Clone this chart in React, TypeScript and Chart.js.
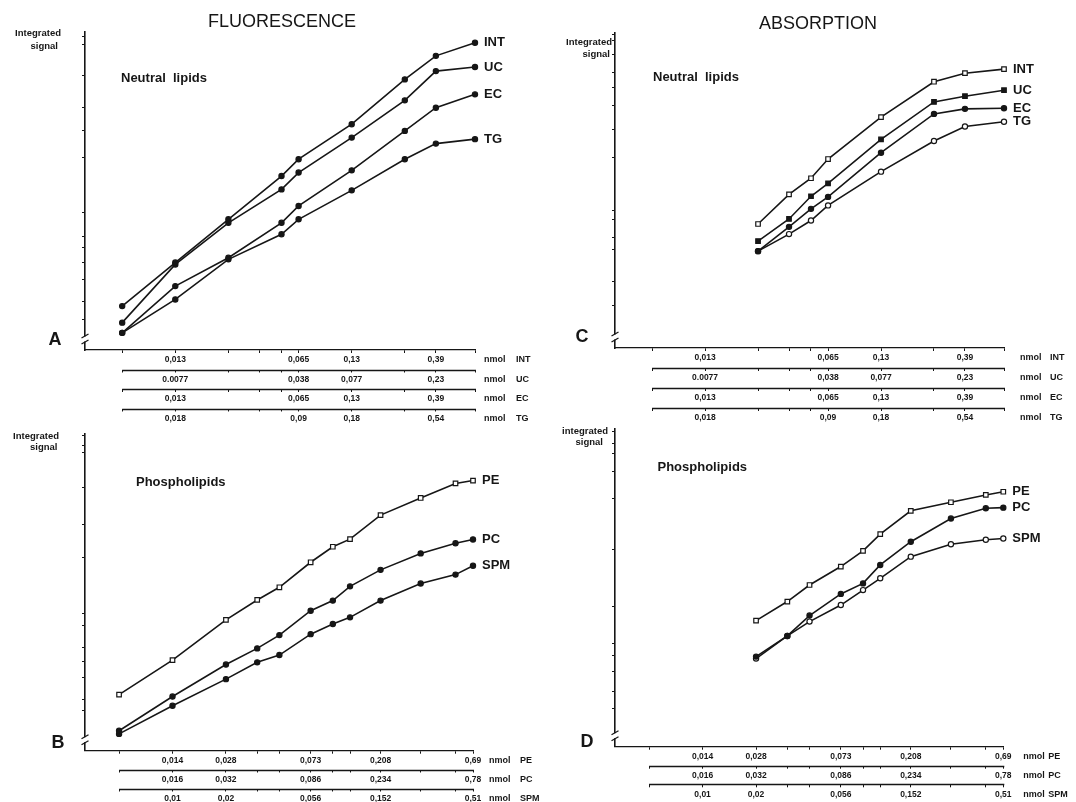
import React, { useEffect, useRef } from 'react';
import { Chart, registerables } from 'chart.js';

Chart.register(...registerables);

const FONT = '"Liberation Sans", Arial, Helvetica, sans-serif';
const INK = '#161616';

// ================= DATA =================
// Neutral lipids (panels A, C): x = nmol INT, shared tick positions of the 4 stacked axes
const neutralTickPositions = [0.0065, 0.013, 0.026, 0.039, 0.052, 0.065, 0.13, 0.26, 0.39, 0.65];
const rowLabelsINT = ['', '0,013', '', '', '', '0,065', '0,13', '', '0,39', ''];
const rowLabelsUC = ['', '0.0077', '', '', '', '0,038', '0,077', '', '0,23', ''];
const rowLabelsEC = ['', '0,013', '', '', '', '0,065', '0,13', '', '0,39', ''];
const rowLabelsTG = ['', '0,018', '', '', '', '0,09', '0,18', '', '0,54', ''];

// Phospholipids (panels B, D): x = nmol PE
const phosTickPositions = [0.007, 0.014, 0.028, 0.042, 0.056, 0.084, 0.112, 0.14, 0.208, 0.35, 0.55, 0.69];
const rowLabelsPE = ['', '0,014', '0,028', '', '', '0,073', '', '', '0,208', '', '', '0,69'];
const rowLabelsPC = ['', '0,016', '0,032', '', '', '0,086', '', '', '0,234', '', '', '0,78'];
const rowLabelsSPM = ['', '0,01', '0,02', '', '', '0,056', '', '', '0,152', '', '', '0,51'];

// Panel A – fluorescence, neutral lipids (integrated signal, arbitrary units 0–100)
const fluoNeutralX = [0.0065, 0.013, 0.026, 0.052, 0.065, 0.13, 0.26, 0.39, 0.65];
const fluoINT = [13.8, 27.5, 41.1, 54.7, 60.0, 71.0, 85.1, 92.5, 96.6];
const fluoUC = [8.6, 26.9, 40.0, 50.5, 55.8, 66.8, 78.5, 87.7, 89.0];
const fluoEC = [5.4, 20.1, 29.0, 40.0, 45.3, 56.5, 68.9, 76.2, 80.4];
const fluoTG = [5.4, 15.9, 28.5, 36.4, 41.1, 50.2, 60.0, 64.9, 66.3];
const fluoNeutralYTicks = [9.7, 15.4, 22.2, 27.5, 32.2, 35.8, 43.2, 60.5, 68.9, 76.2, 86.2, 96.1, 98.7];

// Panel C – absorption, neutral lipids
const absNeutralX = [0.026, 0.039, 0.052, 0.065, 0.13, 0.26, 0.39, 0.65];
const absINT = [39.3, 48.7, 53.8, 59.9, 73.2, 84.4, 87.1, 88.4];
const absUC = [33.9, 40.9, 48.1, 52.2, 66.1, 78.0, 79.8, 81.7];
const absEC = [30.7, 38.4, 44.1, 47.9, 61.9, 74.2, 75.8, 76.0];
const absTG = [30.7, 36.1, 40.4, 45.2, 55.9, 65.6, 70.2, 71.7];
const absNeutralYTicks = [13.5, 21, 31.2, 35, 40.6, 43.6, 60.3, 69.1, 76.9, 82.5, 87.4, 93, 97.5, 99.4];

// Panel B – fluorescence, phospholipids
const fluoPhosX = [0.007, 0.014, 0.028, 0.042, 0.056, 0.084, 0.112, 0.14, 0.208, 0.35, 0.55, 0.69];
const fluoPE = [17.7, 28.6, 41.3, 47.6, 51.6, 59.5, 64.4, 66.8, 74.4, 79.8, 84.4, 85.3];
const fluoPC = [6.3, 17.1, 27.2, 32.3, 36.5, 44.2, 47.4, 51.9, 57.1, 62.3, 65.5, 66.7];
const fluoSPM = [5.3, 14.2, 22.6, 27.9, 30.2, 36.8, 40.0, 42.1, 47.4, 52.8, 55.6, 58.4];
const fluoPhosYTicks = [12.6, 16.3, 23.1, 28.2, 32.6, 39.5, 43.2, 61, 71.5, 83.1, 94.2, 96.3, 99.5];

// Panel D – absorption, phospholipids
const absPhosX = [0.028, 0.042, 0.056, 0.084, 0.112, 0.14, 0.208, 0.35, 0.55, 0.69];
const absPE = [39.6, 45.6, 50.8, 56.6, 61.5, 66.8, 74.1, 76.8, 79.1, 80.1];
const absPC = [28.3, 34.8, 41.2, 48.0, 51.3, 57.1, 64.4, 71.7, 74.9, 75.1];
const absSPM = [27.7, 34.8, 39.3, 44.5, 49.2, 52.9, 59.7, 63.6, 65.0, 65.4];
const absPhosYTicks = [12, 17.3, 23.6, 28.8, 32.5, 44, 61.8, 78, 86.4, 92.1, 95.3, 99];

// ================= LAYOUT / STYLE =================
type Series = { name: string; values: number[]; marker: 'circle' | 'rect'; open: boolean };
type Row = { labels: string[]; name: string; height: number };
type TextItem = { text: string; x: number; y: number; font: string; align: CanvasTextAlign };
type PanelCfg = {
  id: string;
  box: { x: number; y: number; w: number; h: number };
  pad: { left: number; right: number; top: number; bottom: number };
  xMin: number;
  xMax: number;
  x: number[];
  series: Series[];
  ticks: number[];
  rows: Row[];
  yTicks: number[];
  unitDx: number;
  nameDx: number;
  texts: TextItem[];
};

const fTitle = `18px ${FONT}`;
const fSmall = `bold 9.5px ${FONT}`;
const fUnit = `bold 9px ${FONT}`;
const fSub = `bold 13px ${FONT}`;
const fLetter = `bold 18px ${FONT}`;

const panels: PanelCfg[] = [
  {
    id: 'A',
    box: { x: 0, y: 0, w: 540, h: 432 },
    pad: { left: 80, right: 65, top: 32, bottom: 4 },
    xMin: 0.004, xMax: 0.65,
    x: fluoNeutralX,
    series: [
      { name: 'INT', values: fluoINT, marker: 'circle', open: false },
      { name: 'UC', values: fluoUC, marker: 'circle', open: false },
      { name: 'EC', values: fluoEC, marker: 'circle', open: false },
      { name: 'TG', values: fluoTG, marker: 'circle', open: false },
    ],
    ticks: neutralTickPositions,
    rows: [
      { labels: rowLabelsINT, name: 'INT', height: 19.5 },
      { labels: rowLabelsUC, name: 'UC', height: 19.5 },
      { labels: rowLabelsEC, name: 'EC', height: 19.5 },
      { labels: rowLabelsTG, name: 'TG', height: 19.5 },
    ],
    yTicks: fluoNeutralYTicks,
    unitDx: 9, nameDx: 41,
    texts: [
      { text: 'FLUORESCENCE', x: 282, y: 22, font: fTitle, align: 'center' },
      { text: 'Integrated', x: 61, y: 33, font: fSmall, align: 'right' },
      { text: 'signal', x: 58, y: 46, font: fSmall, align: 'right' },
      { text: 'Neutral  lipids', x: 121, y: 78, font: fSub, align: 'left' },
      { text: 'A', x: 55, y: 340, font: fLetter, align: 'center' },
    ],
  },
  {
    id: 'C',
    box: { x: 540, y: 0, w: 536, h: 432 },
    pad: { left: 70, right: 72, top: 32.5, bottom: 4 },
    xMin: 0.004, xMax: 0.65,
    x: absNeutralX,
    series: [
      { name: 'INT', values: absINT, marker: 'rect', open: true },
      { name: 'UC', values: absUC, marker: 'rect', open: false },
      { name: 'EC', values: absEC, marker: 'circle', open: false },
      { name: 'TG', values: absTG, marker: 'circle', open: true },
    ],
    ticks: neutralTickPositions,
    rows: [
      { labels: rowLabelsINT, name: 'INT', height: 20 },
      { labels: rowLabelsUC, name: 'UC', height: 20 },
      { labels: rowLabelsEC, name: 'EC', height: 20 },
      { labels: rowLabelsTG, name: 'TG', height: 20 },
    ],
    yTicks: absNeutralYTicks,
    unitDx: 16, nameDx: 46,
    texts: [
      { text: 'ABSORPTION', x: 818, y: 24, font: fTitle, align: 'center' },
      { text: 'Integrated', x: 612, y: 42.7, font: fSmall, align: 'right' },
      { text: 'signal', x: 610, y: 54, font: fSmall, align: 'right' },
      { text: 'Neutral  lipids', x: 653, y: 77.6, font: fSub, align: 'left' },
      { text: 'C', x: 582, y: 337, font: fLetter, align: 'center' },
    ],
  },
  {
    id: 'B',
    box: { x: 0, y: 420, w: 540, h: 382 },
    pad: { left: 80, right: 67, top: 14, bottom: 0 },
    xMin: 0.0045, xMax: 0.69,
    x: fluoPhosX,
    series: [
      { name: 'PE', values: fluoPE, marker: 'rect', open: true },
      { name: 'PC', values: fluoPC, marker: 'circle', open: false },
      { name: 'SPM', values: fluoSPM, marker: 'circle', open: false },
    ],
    ticks: phosTickPositions,
    rows: [
      { labels: rowLabelsPE, name: 'PE', height: 18.8 },
      { labels: rowLabelsPC, name: 'PC', height: 19 },
      { labels: rowLabelsSPM, name: 'SPM', height: 13.5 },
    ],
    yTicks: fluoPhosYTicks,
    unitDx: 16, nameDx: 47,
    texts: [
      { text: 'Integrated', x: 59, y: 436, font: fSmall, align: 'right' },
      { text: 'signal', x: 57.5, y: 447.5, font: fSmall, align: 'right' },
      { text: 'Phospholipids', x: 136, y: 482.5, font: fSub, align: 'left' },
      { text: 'B', x: 58, y: 743, font: fLetter, align: 'center' },
    ],
  },
  {
    id: 'D',
    box: { x: 540, y: 420, w: 536, h: 382 },
    pad: { left: 70, right: 72.7, top: 8.4, bottom: 0 },
    xMin: 0.0045, xMax: 0.69,
    x: absPhosX,
    series: [
      { name: 'PE', values: absPE, marker: 'rect', open: true },
      { name: 'PC', values: absPC, marker: 'circle', open: false },
      { name: 'SPM', values: absSPM, marker: 'circle', open: true },
    ],
    ticks: phosTickPositions,
    rows: [
      { labels: rowLabelsPE, name: 'PE', height: 19 },
      { labels: rowLabelsPC, name: 'PC', height: 18.6 },
      { labels: rowLabelsSPM, name: 'SPM', height: 17.7 },
    ],
    yTicks: absPhosYTicks,
    unitDx: 20, nameDx: 45,
    texts: [
      { text: 'integrated', x: 608, y: 431, font: fSmall, align: 'right' },
      { text: 'signal', x: 603, y: 442, font: fSmall, align: 'right' },
      { text: 'Phospholipids', x: 657.5, y: 467, font: fSub, align: 'left' },
      { text: 'D', x: 587, y: 742, font: fLetter, align: 'center' },
    ],
  },
];

function makeDecor(p: PanelCfg) {
  return {
    id: 'decor' + p.id,
    afterDraw(chart: any) {
      const ctx: CanvasRenderingContext2D = chart.ctx;
      const area = chart.chartArea;
      ctx.save();
      ctx.strokeStyle = INK;
      ctx.fillStyle = INK;

      // partial lines of the secondary axis rows + unit labels
      p.rows.forEach((row, i) => {
        const s = chart.scales[i === 0 ? 'x' : 'x' + (i + 1)];
        const y = Math.round(s.top) + 0.5;
        if (i > 0) {
          ctx.lineWidth = 1.3;
          ctx.beginPath();
          ctx.moveTo(s.getPixelForValue(p.ticks[0]), y);
          ctx.lineTo(area.right + 1, y);
          ctx.stroke();
        }
        ctx.font = fUnit;
        ctx.textBaseline = 'middle';
        ctx.textAlign = 'left';
        ctx.fillText('nmol', area.right + p.unitDx, s.top + 10);
        ctx.fillText(row.name, area.right + p.nameDx, s.top + 10);
      });

      // axis break on the y axis
      const bx = area.left;
      const by = area.bottom - 11;
      ctx.fillStyle = '#fff';
      ctx.fillRect(bx - 2, by - 2.5, 4, 5);
      ctx.strokeStyle = INK;
      ctx.lineWidth = 1.3;
      [by - 3, by + 3].forEach((yy) => {
        ctx.beginPath();
        ctx.moveTo(bx - 3.5, yy + 2);
        ctx.lineTo(bx + 3.5, yy - 2);
        ctx.stroke();
      });

      // series labels at line ends
      ctx.fillStyle = INK;
      ctx.font = fSub;
      ctx.textAlign = 'left';
      ctx.textBaseline = 'middle';
      chart.data.datasets.forEach((ds: any, i: number) => {
        const meta = chart.getDatasetMeta(i);
        const last = meta.data[meta.data.length - 1];
        ctx.fillText(ds.label, last.x + 9, last.y);
      });

      // free texts (page coordinates)
      p.texts.forEach((t) => {
        ctx.font = t.font;
        ctx.textAlign = t.align;
        ctx.textBaseline = 'middle';
        ctx.fillText(t.text, t.x - p.box.x, t.y - p.box.y);
      });
      ctx.restore();
    },
  };
}

function buildConfig(p: PanelCfg): any {
  const datasets = p.series.map((s) => ({
    label: s.name,
    data: p.x.map((x, i) => ({ x, y: s.values[i] })),
    borderColor: INK,
    borderWidth: 1.6,
    pointStyle: s.marker,
    pointRadius: s.marker === 'rect' ? 3.2 : 2.6,
    pointBackgroundColor: s.open ? '#fff' : INK,
    pointBorderColor: INK,
    pointBorderWidth: 1.2,
    tension: 0,
    clip: false,
    xAxisID: 'x',
    yAxisID: 'y',
  }));

  const scales: any = {
    y: {
      type: 'linear',
      position: 'left',
      min: 0,
      max: 100,
      grid: { display: true, drawOnChartArea: false, drawTicks: true, tickLength: 3, color: INK, lineWidth: 1 },
      border: { display: true, color: INK, width: 1.6 },
      ticks: { display: false },
      afterBuildTicks: (s: any) => {
        s.ticks = p.yTicks.map((v) => ({ value: v }));
      },
      afterFit: (s: any) => {
        s.width = 5;
      },
    },
  };

  p.rows.forEach((row, i) => {
    scales[i === 0 ? 'x' : 'x' + (i + 1)] = {
      type: 'logarithmic',
      axis: 'x',
      position: 'bottom',
      weight: i,
      min: p.xMin,
      max: p.xMax,
      grid: { display: true, drawOnChartArea: false, drawTicks: true, tickLength: 3, color: INK, lineWidth: 1 },
      border: { display: i === 0, color: INK, width: 1.3 },
      ticks: {
        autoSkip: false,
        maxRotation: 0,
        minRotation: 0,
        padding: 2,
        color: INK,
        font: { family: FONT, size: 8.5, weight: 'bold' },
        callback: (_v: any, idx: number) => row.labels[idx] ?? '',
      },
      afterBuildTicks: (s: any) => {
        s.ticks = p.ticks.map((v) => ({ value: v }));
      },
      afterFit: (s: any) => {
        s.height = row.height;
      },
    };
  });

  return {
    type: 'line',
    data: { datasets },
    options: {
      responsive: false,
      maintainAspectRatio: false,
      animation: false,
      devicePixelRatio: 1,
      events: [],
      layout: { padding: p.pad },
      plugins: { legend: { display: false }, tooltip: { enabled: false }, title: { display: false } },
      scales,
    },
    plugins: [makeDecor(p)],
  };
}

function Panel({ cfg }: { cfg: PanelCfg }) {
  const ref = useRef<HTMLCanvasElement>(null);
  useEffect(() => {
    const chart = new Chart(ref.current as HTMLCanvasElement, buildConfig(cfg));
    return () => chart.destroy();
  }, [cfg]);
  return (
    <canvas
      ref={ref}
      width={cfg.box.w}
      height={cfg.box.h}
      style={{ position: 'absolute', left: cfg.box.x, top: cfg.box.y, width: cfg.box.w, height: cfg.box.h }}
    />
  );
}

export default function App() {
  return (
    <div style={{ position: 'absolute', left: 0, top: 0, width: 1076, height: 802, background: '#fff', overflow: 'hidden' }}>
      {panels.map((p) => (
        <Panel key={p.id} cfg={p} />
      ))}
    </div>
  );
}
